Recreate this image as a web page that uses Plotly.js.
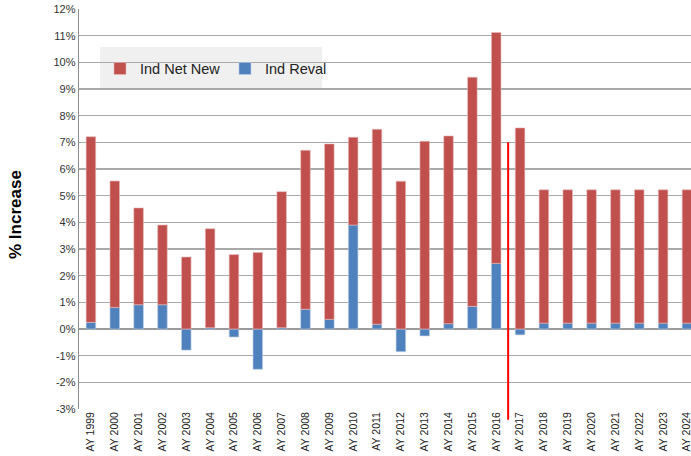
<!DOCTYPE html>
<html>
<head>
<meta charset="utf-8">
<script src="https://cdn.plot.ly/plotly-3.0.1.min.js"></script>
<style>html,body{margin:0;padding:0;background:#fff;}#chart{width:691px;height:456px;}</style>
</head>
<body>
<div id="chart"></div>
<script>
const years = ["AY 1999","AY 2000","AY 2001","AY 2002","AY 2003","AY 2004","AY 2005","AY 2006","AY 2007","AY 2008","AY 2009","AY 2010","AY 2011","AY 2012","AY 2013","AY 2014","AY 2015","AY 2016","AY 2017","AY 2018","AY 2019","AY 2020","AY 2021","AY 2022","AY 2023","AY 2024"];
const indReval = [0.25,0.81,0.91,0.91,-0.79,0.05,-0.30,-1.51,0.05,0.74,0.36,3.90,0.18,-0.85,-0.26,0.20,0.85,2.46,-0.22,0.22,0.22,0.22,0.22,0.22,0.22,0.22];
const indNetNew = [6.96,4.74,3.63,2.99,2.70,3.71,2.79,2.87,5.10,5.96,6.58,3.29,7.31,5.54,7.04,7.04,8.59,8.66,7.54,5.00,5.00,5.00,5.00,5.00,5.00,5.00];
const yTicks = [-3,-2,-1,0,1,2,3,4,5,6,7,8,9,10,11,12];
const dividerAfter = "AY 2016";       // red line sits between AY 2016 and AY 2017
const dividerTop = 7, dividerBottom = -3.4;

const idx = years.map((_, i) => i);
const yMin = -3, yMax = 12;
const dividerX = years.indexOf(dividerAfter) + 0.5;
const toPaperY = v => (v - yMin) / (yMax - yMin);

const traces = [
  {type:'bar', name:'Ind Reval', x: idx, y: indReval,
   marker:{color:'#4F81BD', line:{color:'#b9cde5', width:0.6}}},
  {type:'bar', name:'Ind Net New', x: idx, y: indNetNew,
   marker:{color:'#C0504D', line:{color:'#e6b9b8', width:0.6}}}
];

const layout = {
  width:691, height:456,
  margin:{l:79, r:0, t:9, b:47},
  paper_bgcolor:'#ffffff', plot_bgcolor:'#ffffff',
  barmode:'relative', bargap:0.6,
  font:{family:'Liberation Sans, Arial, sans-serif', color:'#333333', size:11},
  xaxis:{type:'linear', range:[-0.5, 25.17], tickmode:'array', tickvals: idx, ticktext: years,
    tickangle:-90, showgrid:false, zeroline:false, showline:false, ticks:'',
    ticklabeloverflow:'allow', tickfont:{size:10.5, color:'#222'}, automargin:false, fixedrange:true},
  yaxis:{range:[yMin,yMax], tickmode:'array', tickvals:yTicks, ticktext: yTicks.map(v => v + '%'),
    showgrid:true, gridcolor:'#a9a9a9', gridwidth:1.3, zeroline:true, zerolinecolor:'#9a9a9a', zerolinewidth:1.3,
    showline:true, linecolor:'#8c8c8c', linewidth:1.3, ticks:'', tickfont:{size:11, color:'#333'},
    automargin:false, fixedrange:true},
  legend:{orientation:'h', x:0.0343, y:0.8512, xanchor:'left', yanchor:'middle', traceorder:'reversed',
    bgcolor:'rgba(0,0,0,0)', borderwidth:0, font:{size:14.5, color:'#222'}, itemwidth:30,
    entrywidth:80, entrywidthmode:'pixels'},
  shapes:[
    {type:'rect', xref:'paper', yref:'paper', x0:0.0343, x1:0.397, y0:0.7975, y1:0.905,
     fillcolor:'#f0f0f0', line:{width:0}, layer:'below'},
    {type:'line', xref:'x', yref:'paper', x0:dividerX, x1:dividerX,
     y0:toPaperY(dividerBottom), y1:toPaperY(dividerTop), line:{color:'#ff0000', width:2}}
  ],
  annotations:[{text:'<b>% Increase</b>', xref:'paper', yref:'paper', x:0, y:0.485, xanchor:'center', yanchor:'middle',
    xshift:-64, textangle:-90, showarrow:false, font:{size:17, color:'#000', family:'Liberation Sans, Arial, sans-serif'}}]
};

Plotly.newPlot('chart', traces, layout, {displayModeBar:false, staticPlot:true});
</script>
</body>
</html>
